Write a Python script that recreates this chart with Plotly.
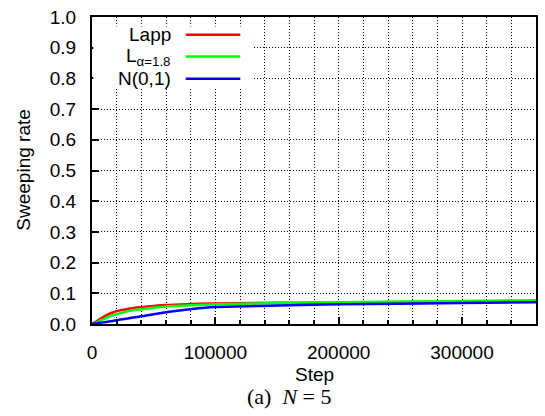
import plotly.graph_objects as go

steps = [0, 5000, 10000, 15000, 20000, 30000, 40000, 50000, 60000, 80000,
         100000, 150000, 200000, 250000, 300000, 360000]
lapp = [0, 0.012, 0.025, 0.035, 0.042, 0.050, 0.055, 0.059, 0.062, 0.065,
        0.067, 0.069, 0.070, 0.071, 0.072, 0.073]
levy = [0, 0.008, 0.017, 0.026, 0.032, 0.042, 0.048, 0.053, 0.057, 0.061,
        0.064, 0.068, 0.071, 0.073, 0.075, 0.077]
normal = [0, 0.003, 0.006, 0.009, 0.012, 0.019, 0.025, 0.032, 0.038, 0.048,
          0.055, 0.060, 0.064, 0.066, 0.068, 0.071]

names = ["Lapp", "L<sub>α=1.8</sub>", "N(0,1)"]
colors = ["#ff0000", "#00ff00", "#0000ff"]
series = [lapp, levy, normal]

FONT = "Liberation Sans, Arial, sans-serif"
fig = go.Figure()
for s, c, n in zip(series, colors, names):
    fig.add_trace(go.Scatter(x=steps, y=s, mode="lines", name=n,
                             line=dict(color=c, width=2.5, shape="spline"),
                             showlegend=False))

# legend (text right-aligned, sample line to the right)
fig.add_shape(type="rect", xref="paper", yref="paper", x0=0.003, x1=0.361,
              y0=0.770, y1=0.969, fillcolor="white", line=dict(width=0),
              layer="above")
leg_y = [0.942, 0.871, 0.799]
for n, c, yy in zip(names, colors, leg_y):
    fig.add_annotation(xref="paper", yref="paper", x=0.182, y=yy, text=n,
                       showarrow=False, xanchor="right", yanchor="middle",
                       font=dict(family=FONT, size=19, color="black"))
    fig.add_shape(type="line", xref="paper", yref="paper", x0=0.211, x1=0.334,
                  y0=yy, y1=yy, line=dict(color=c, width=2.5), layer="above")

fig.add_annotation(xref="paper", yref="paper", x=0.5, y=-0.165, text="Step",
                   showarrow=False, yanchor="middle",
                   font=dict(family=FONT, size=19, color="black"))
fig.add_annotation(xref="paper", yref="paper", x=-0.155, y=0.5,
                   text="Sweeping rate", textangle=-90, showarrow=False,
                   xanchor="center", yanchor="middle",
                   font=dict(family=FONT, size=19, color="black"))
fig.add_annotation(xref="paper", yref="paper", x=0.444, y=-0.236,
                   text="(a)  <i>N</i> = 5", showarrow=False,
                   xanchor="center", yanchor="middle",
                   font=dict(family="Liberation Serif, DejaVu Serif, serif",
                             size=22, color="black"))

fig.update_xaxes(range=[0, 360000], tickmode="array",
                 tickvals=[0, 100000, 200000, 300000],
                 ticktext=["0", "100000", "200000", "300000"],
                 showgrid=True, gridcolor="black", griddash="1px,2px",
                 gridwidth=1, ticks="inside", ticklen=7, tickwidth=1.5,
                 tickcolor="black", showline=True, linecolor="black",
                 linewidth=2, mirror=True, zeroline=False,
                 ticklabelstandoff=10,
                 minor=dict(dtick=20000, tick0=0, showgrid=True,
                            gridcolor="black", griddash="1px,2px",
                            gridwidth=1, ticks="inside", ticklen=4,
                            tickcolor="black"),
                 tickfont=dict(family=FONT, size=19, color="black"))
fig.update_yaxes(range=[0, 1], dtick=0.1, tick0=0, tickformat=".1f",
                 showgrid=True, gridcolor="black", griddash="1px,2px",
                 gridwidth=1, ticks="inside", ticklen=7, tickwidth=1.5,
                 tickcolor="black", showline=True, linecolor="black",
                 linewidth=2, mirror=True, zeroline=False,
                 ticklabelstandoff=10,
                 tickfont=dict(family=FONT, size=19, color="black"))

fig.update_layout(width=545, height=416, paper_bgcolor="white",
                  plot_bgcolor="white",
                  margin=dict(l=92, r=7, t=15, b=92, pad=0))
fig.write_html("out.html")
